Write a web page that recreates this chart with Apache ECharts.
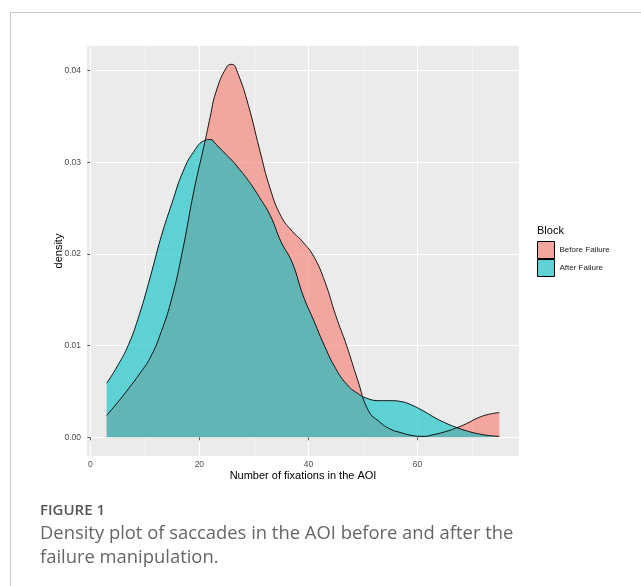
<!DOCTYPE html>
<html><head><meta charset="utf-8">
<script src="https://cdn.jsdelivr.net/npm/echarts@6/dist/echarts.min.js"></script>
<style>html,body{margin:0;padding:0;background:#fff}#c{width:641px;height:586px}</style>
</head><body><div id="c"></div>
<script>
// Data
const xs = [3,5,7,9,11,13,15,17,19,21,22,23,25,26,27,29,31,33,35,37,39,41,43,45,47,49,51,53,55,57,59,61,63,65,67,69,71,73,75];
const beforeFailure = [0.0024,0.0038,0.0053,0.0069,0.0087,0.0115,0.0153,0.0206,0.0269,0.0322,0.0350,0.0376,0.0404,0.0407,0.0398,0.0362,0.0315,0.0271,0.0241,0.0225,0.0213,0.0197,0.0170,0.0133,0.0100,0.0063,0.0029,0.0017,0.0009,0.0005,0.0002,0.0001,0.0003,0.0006,0.0010,0.0015,0.0021,0.0025,0.0027];
const afterFailure = [0.0059,0.0078,0.0101,0.0134,0.0175,0.0219,0.0256,0.0290,0.0312,0.0324,0.0325,0.0320,0.0308,0.0302,0.0295,0.0280,0.0262,0.0242,0.0213,0.0191,0.0155,0.0127,0.0099,0.0075,0.0058,0.0048,0.0042,0.0040,0.0040,0.0039,0.0035,0.0029,0.0022,0.0016,0.0011,0.0007,0.0004,0.0002,0.0001];
const seriesNames = ['Before Failure','After Failure'];
const xTicks = [0,20,40,60];
const xMinor = [10,30,50,70];
const yTicks = [0,0.01,0.02,0.03,0.04];
const yMinor = [0.005,0.015,0.025,0.035];

const ggFont = 'Liberation Sans, Arial, sans-serif';
const capFont = 'Open Sans, sans-serif';
const chart = echarts.init(document.getElementById('c'), null, {renderer:'canvas'});

const gridLines = [];
xMinor.forEach(v => gridLines.push({xAxis:v, lineStyle:{color:'#fff', width:0.5, type:'solid'}}));
yMinor.forEach(v => gridLines.push({yAxis:v, lineStyle:{color:'#fff', width:0.5, type:'solid'}}));
xTicks.forEach(v => gridLines.push({xAxis:v, lineStyle:{color:'#fff', width:1.1, type:'solid'}}));
yTicks.forEach(v => gridLines.push({yAxis:v, lineStyle:{color:'#fff', width:1.1, type:'solid'}}));

function pairs(vals){ return xs.map((x,i)=>[x, vals[i]]); }

const option = {
  animation:false,
  backgroundColor:'#fff',
  grid:{left:87, top:46, width:432, height:410, show:true, backgroundColor:'#EBEBEB', borderWidth:0, containLabel:false},
  xAxis:{
    type:'value', min:-0.6, max:78.6,
    axisLine:{show:false},
    splitLine:{show:false},
    axisTick:{show:true, customValues:xTicks, length:3, lineStyle:{color:'#333', width:0.8}},
    axisLabel:{customValues:xTicks, color:'#4d4d4d', fontSize:8.5, margin:4, fontFamily:ggFont},
    name:'Number of fixations in the AOI', nameLocation:'middle', nameGap:14, nameMoveOverlap:false,
    nameTextStyle:{color:'#000', fontSize:11, fontFamily:ggFont}
  },
  yAxis:{
    type:'value', min:-0.00204, max:0.0427,
    axisLine:{show:false},
    splitLine:{show:false},
    axisTick:{show:true, customValues:yTicks, length:3, lineStyle:{color:'#333', width:0.8}},
    axisLabel:{customValues:yTicks, color:'#4d4d4d', fontSize:8.5, margin:6, fontFamily:ggFont,
      formatter:v=>v.toFixed(2)},
    name:'density', nameLocation:'middle', nameGap:23, nameRotate:90, nameMoveOverlap:false,
    nameTextStyle:{color:'#000', fontSize:11, fontFamily:ggFont}
  },
  legend:{
    orient:'vertical', left:537, top:241, padding:0, itemWidth:17, itemHeight:17, itemGap:0, icon:'rect',
    textStyle:{fontSize:8, color:'#1a1a1a', fontFamily:ggFont},
    data:[
      {name:seriesNames[0], icon:'rect', itemStyle:{color:'#F3A59F', borderColor:'#000', borderWidth:1}, lineStyle:{opacity:0}},
      {name:seriesNames[1], icon:'rect', itemStyle:{color:'#5ED1D4', borderColor:'#000', borderWidth:1}, lineStyle:{opacity:0}}
    ]
  },
  graphic:[
    {type:'line', shape:{x1:10.5, y1:12.5, x2:641, y2:12.5}, style:{stroke:'#c8c8c8', lineWidth:1}},
    {type:'line', shape:{x1:10.5, y1:12.5, x2:10.5, y2:586}, style:{stroke:'#c8c8c8', lineWidth:1}},
    {type:'text', left:537, top:225, style:{text:'Block', fontSize:11, fill:'#000', fontFamily:ggFont}},
    {type:'text', left:40, top:503, style:{text:'FIGURE 1', fontSize:15, fontWeight:600, fill:'#555', fontFamily:capFont}},
    {type:'text', left:40, top:525, style:{text:'Density plot of saccades in the AOI before and after the', fontSize:18.4, fill:'#666', fontFamily:capFont}},
    {type:'text', left:40, top:549, style:{text:'failure manipulation.', fontSize:18.4, fill:'#666', fontFamily:capFont}}
  ],
  series:[
    {type:'line', name:'_grid', data:[], z:0, silent:true,
      markLine:{z:0, silent:true, symbol:['none','none'], label:{show:false}, data:gridLines, animation:false}},
    {type:'line', name:seriesNames[0], data:pairs(beforeFailure), smooth:0.5, showSymbol:false, z:3,
      color:'#F8766D', lineStyle:{color:'#000', width:0.9}, areaStyle:{color:'#F8766D', opacity:0.6}},
    {type:'line', name:seriesNames[1], data:pairs(afterFailure), smooth:0.5, showSymbol:false, z:3,
      color:'#00BFC4', lineStyle:{color:'#000', width:0.9}, areaStyle:{color:'#00BFC4', opacity:0.6}}
  ]
};
chart.setOption(option);
</script>
</body></html>
